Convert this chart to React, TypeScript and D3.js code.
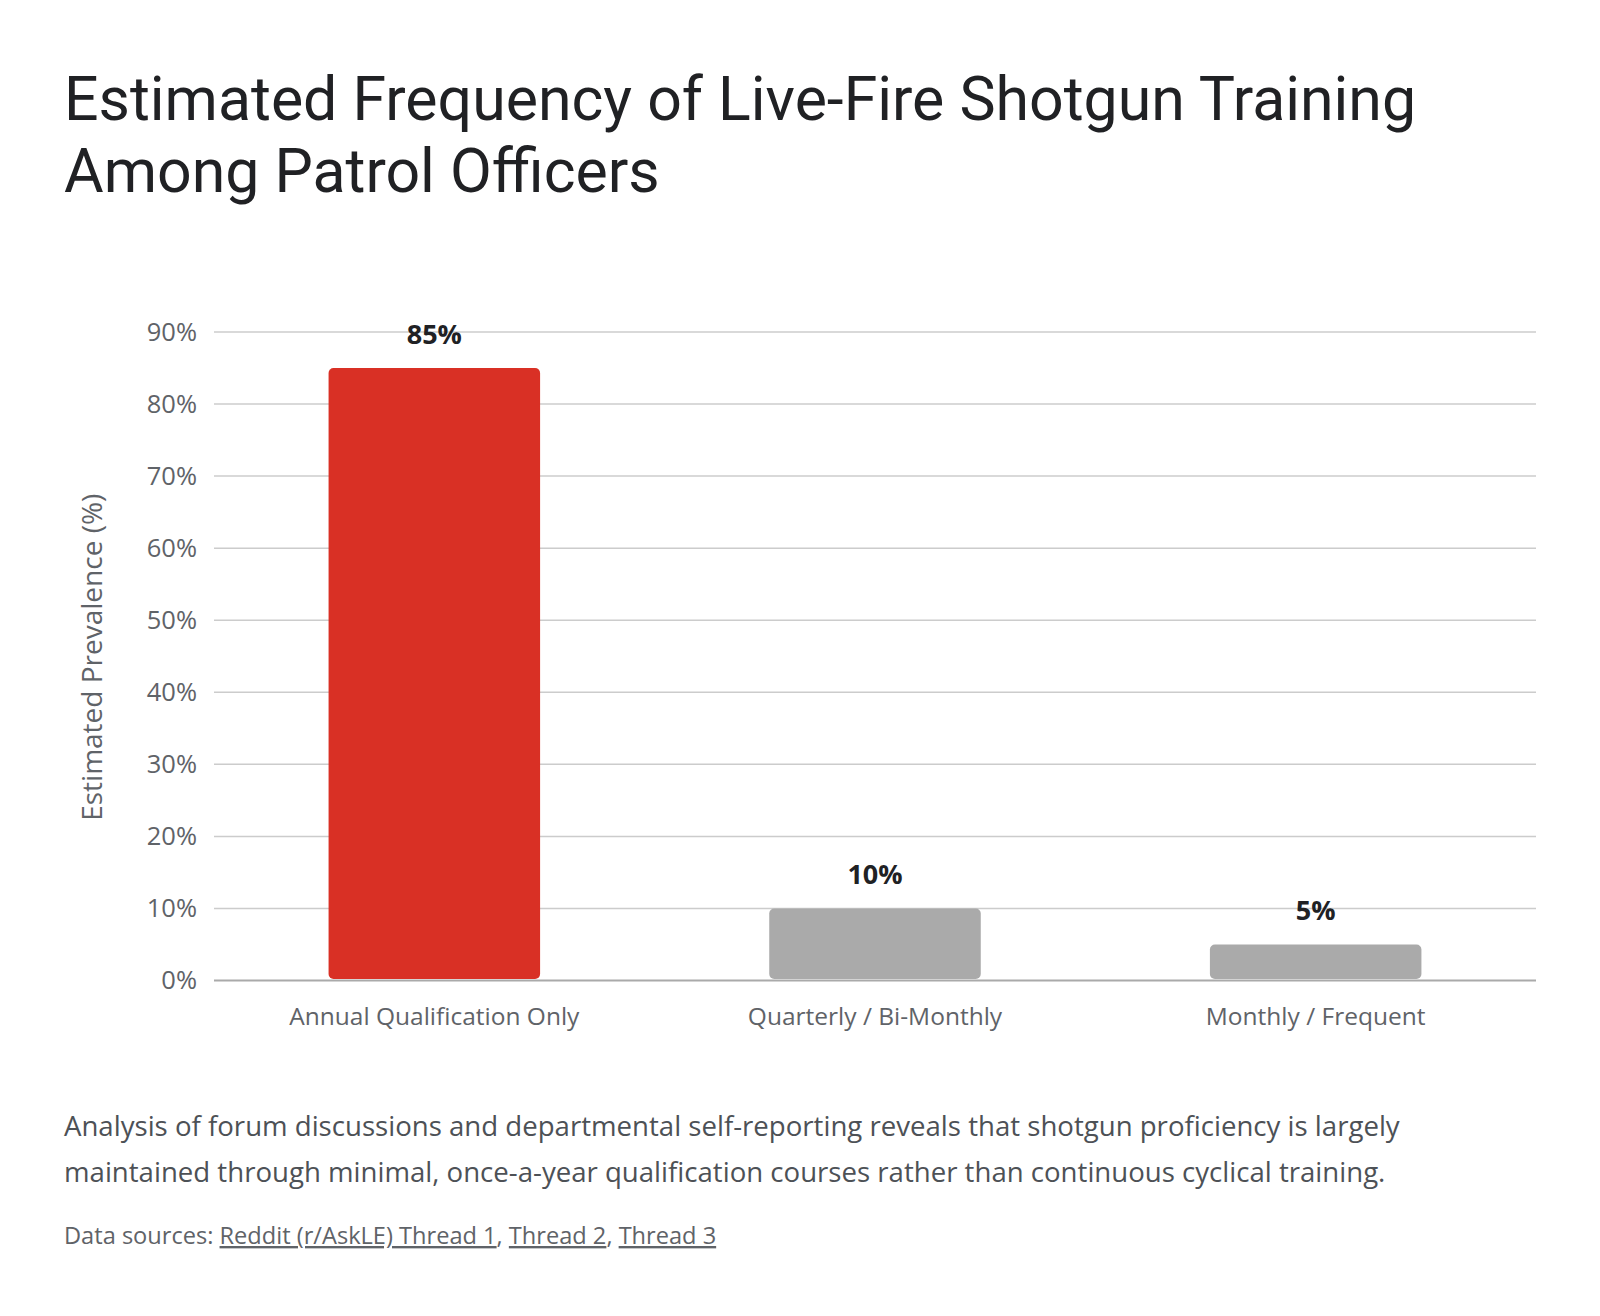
import React, { useEffect } from 'react';
import { scaleBand, scaleLinear, range } from 'd3';

const categories = ['Annual Qualification Only', 'Quarterly / Bi-Monthly', 'Monthly / Frequent'];
const values = [85, 10, 5];
const barColors = ['#d93025', '#aaaaaa', '#aaaaaa'];
const yTicks = range(0, 100, 10);

const titleLines = ['Estimated Frequency of Live-Fire Shotgun Training', 'Among Patrol Officers'];
const descLines = [
  'Analysis of forum discussions and departmental self-reporting reveals that shotgun proficiency is largely',
  'maintained through minimal, once-a-year qualification courses rather than continuous cyclical training.',
];
const sourceLinks = ['Reddit (r/AskLE) Thread 1', 'Thread 2', 'Thread 3'];

const W = 1600;
const H = 1316;
const font = '"Open Sans", Roboto, sans-serif';
const titleFont = 'Roboto, "Open Sans", sans-serif';

export default function App() {
  useEffect(() => {
    document.body.style.margin = '0';
  }, []);

  const x = scaleBand<string>()
    .domain(categories)
    .range([214, 1536])
    .paddingInner(0.52)
    .paddingOuter(0.26);

  const y = scaleLinear().domain([0, 90]).range([980.5, 332]);

  return (
    <svg width={W} height={H} style={{ display: 'block', background: '#fff' }} fontFamily={font}>
      {/* title */}
      {titleLines.map((t, i) => (
        <text key={t} x={64} y={120.4 + i * 71.3} fontSize={60.8} fontFamily={titleFont} fill="#202124">
          {t}
        </text>
      ))}

      {/* gridlines */}
      {yTicks.map(t => (
        <line
          key={t}
          x1={214}
          x2={1536}
          y1={y(t)}
          y2={y(t)}
          stroke={t === 0 ? '#aaaaaa' : '#cccccc'}
          strokeWidth={t === 0 ? 2 : 1.5}
        />
      ))}

      {/* y tick labels */}
      {yTicks.map(t => (
        <text key={t} x={197} y={y(t)} dy="0.35em" textAnchor="end" fontSize={25.5} fill="#5f6368">
          {t}%
        </text>
      ))}

      {/* y axis title */}
      <text
        transform={`translate(102, ${(y(0) + y(90)) / 2 + 1}) rotate(-90)`}
        textAnchor="middle"
        fontSize={28}
        fill="#5f6368"
      >
        Estimated Prevalence (%)
      </text>

      {/* bars */}
      {categories.map((c, i) => (
        <rect
          key={c}
          x={x(c)}
          y={y(values[i])}
          width={x.bandwidth()}
          height={y(0) - y(values[i]) - 1.5}
          rx={5}
          fill={barColors[i]}
        />
      ))}

      {/* value labels */}
      {categories.map((c, i) => (
        <text
          key={c}
          x={(x(c) ?? 0) + x.bandwidth() / 2}
          y={y(values[i]) - 24}
          textAnchor="middle"
          fontSize={27}
          fontWeight={700}
          fill="#202124"
        >
          {values[i]}%
        </text>
      ))}

      {/* category labels */}
      {categories.map(c => (
        <text
          key={c}
          x={(x(c) ?? 0) + x.bandwidth() / 2}
          y={1025}
          textAnchor="middle"
          fontSize={24.5}
          fill="#5f6368"
        >
          {c}
        </text>
      ))}

      {/* description */}
      {descLines.map((t, i) => (
        <text key={t} x={64} y={1136 + i * 46} fontSize={27.6} fill="#4d5156">
          {t}
        </text>
      ))}

      {/* sources */}
      <text x={64} y={1244} fontSize={23.6} fill="#5f6368">
        Data sources:{' '}
        {sourceLinks.map((s, i) => (
          <React.Fragment key={s}>
            <tspan textDecoration="underline">{s}</tspan>
            {i < sourceLinks.length - 1 ? ', ' : ''}
          </React.Fragment>
        ))}
      </text>
    </svg>
  );
}
